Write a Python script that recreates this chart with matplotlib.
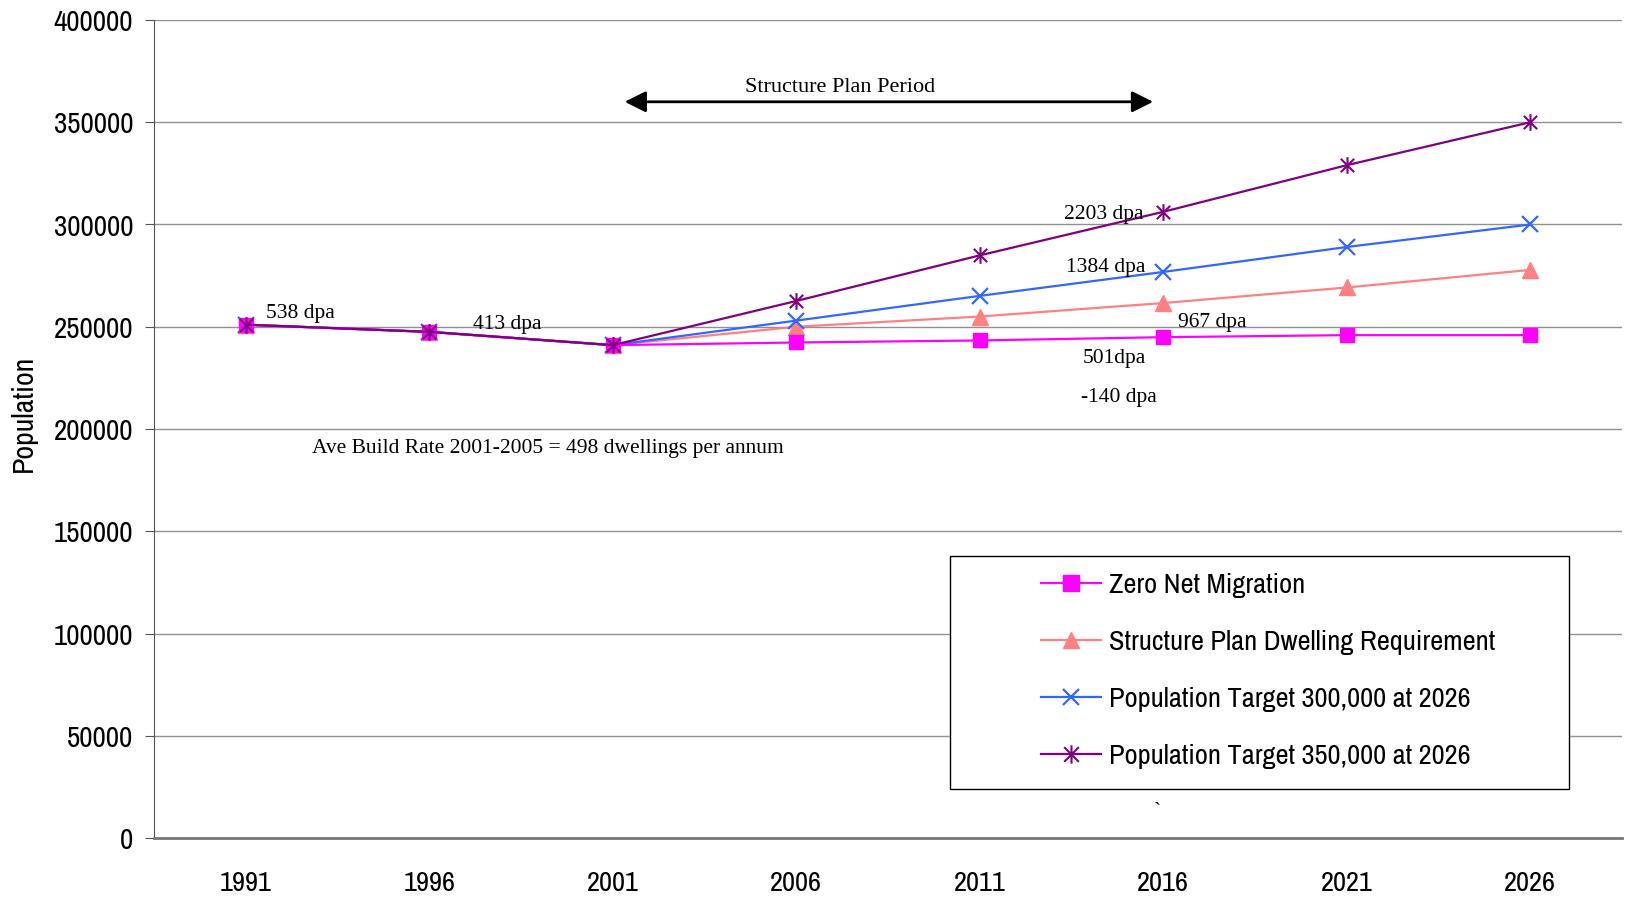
import numpy as np
import matplotlib
matplotlib.use("Agg")
from matplotlib import pyplot as plt
from matplotlib.path import Path
from matplotlib.patches import Rectangle

years = ["1991", "1996", "2001", "2006", "2011", "2016", "2021", "2026"]

zero_net = [251000, 247500, 241000, 242300, 243300, 244900, 245900, 245900]
structure_plan = [251000, 247500, 241000, 250000, 255000, 261600, 269200, 277800]
target_300k = [251000, 247500, 241000, 253000, 265100, 276800, 289000, 300000]
target_350k = [251000, 247500, 241000, 262600, 284900, 306200, 329000, 350000]

series_names = ["Zero Net Migration",
                "Structure Plan Dwelling Requirement",
                "Population Target 300,000 at 2026",
                "Population Target 350,000 at 2026"]

# excel style asterisk: an x with a vertical bar through it
star_path = Path([(-1, -1), (1, 1), (-1, 1), (1, -1), (0, -1.25), (0, 1.25)],
                 [Path.MOVETO, Path.LINETO, Path.MOVETO, Path.LINETO, Path.MOVETO, Path.LINETO])

narrow = ["Liberation Sans Narrow", "Archivo Narrow", "PT Sans Narrow", "Roboto Condensed",
          "Open Sans Condensed", "DejaVu Sans"]
serif = ["Liberation Serif", "Tinos", "DejaVu Serif"]

W, H = 1627, 897
fig = plt.figure(figsize=(W / 100, H / 100), dpi=100)
ax_l, ax_r, ax_t, ax_b = 154, 1622, 20, 838
ax = fig.add_axes([ax_l / W, 1 - ax_b / H, (ax_r - ax_l) / W, (ax_b - ax_t) / H])


def px(xp, yp):
    # pixel position on the canvas -> axes fraction
    return (xp - ax_l) / (ax_r - ax_l), (ax_b - yp) / (ax_b - ax_t)


x = np.arange(len(years))
ax.plot(x, structure_plan, color="#FF8080", lw=1.6, marker="^", ms=11, label=series_names[1], zorder=3)
ax.plot(x, target_300k, color="#3366FF", lw=1.6, marker="x", ms=11, mew=1.6, label=series_names[2], zorder=4)
ax.plot(x, zero_net, color="#FF00FF", lw=1.6, marker="s", ms=10, label=series_names[0], zorder=5)
ax.plot(x, target_350k, color="#800080", lw=1.6, marker=star_path, ms=12, mew=1.5, label=series_names[3], zorder=6)

ax.set_xlim(-0.5, len(years) - 0.5)
ax.set_ylim(0, 400000)
ax.set_yticks(np.arange(0, 400001, 50000))
ax.set_xticks(x)
ax.set_xticklabels(years)
ax.yaxis.grid(True, color="#909090", lw=1)
ax.set_axisbelow(True)

for s in ["top", "right"]:
    ax.spines[s].set_visible(False)
ax.spines["left"].set_color("#555555")
ax.spines["bottom"].set_color("#777777")
ax.spines["bottom"].set_linewidth(2)
ax.tick_params(axis="y", length=6.5, color="#555555", pad=8.5, labelsize=21)
ax.tick_params(axis="x", length=0, pad=23.5, labelsize=20.5)
for lbl in ax.get_xticklabels() + ax.get_yticklabels():
    lbl.set_fontfamily(narrow)

ax.set_ylabel("Population", fontsize=21.5, family=narrow)
ax.yaxis.set_label_coords(*px(23, 413))
ax.yaxis.label.set_va("center")

# dwelling rate notes
notes = [
    (0.11, 256500, "538 dpa"),
    (1.24, 251000, "413 dpa"),
    (4.46, 304700, "2203 dpa"),
    (4.47, 279200, "1384 dpa"),
    (5.08, 252000, "967 dpa"),
    (4.56, 234700, "501dpa"),
    (4.55, 215500, "-140 dpa"),
    (0.36, 190300, "Ave Build Rate 2001-2005 = 498 dwellings per annum"),
    (4.95, 12500, "`"),
]
for nx, ny, txt in notes:
    ax.text(nx, ny, txt, fontsize=15.5, family=serif, ha="left", va="center", zorder=7)

# structure plan period arrow
ax.annotate("", xy=(4.96, 360000), xytext=(2.05, 360000),
            arrowprops=dict(arrowstyle="<|-|>", color="black", lw=2, mutation_scale=32))
ax.text(3.24, 367000, "Structure Plan Period", fontsize=16, family=serif, ha="center", va="center")

# legend box drawn separately so the entries can sit indented inside it
bx0, by0 = px(950, 789)
bx1, by1 = px(1569, 556)
ax.add_patch(Rectangle((bx0, by0), bx1 - bx0, by1 - by0, transform=ax.transAxes,
                       facecolor="white", edgecolor="black", lw=1, zorder=8, clip_on=False))
handles, labels = ax.get_legend_handles_labels()
order = [labels.index(n) for n in series_names]
leg = ax.legend([handles[i] for i in order], [labels[i] for i in order],
                loc="upper left", bbox_to_anchor=px(1041, 573), frameon=False,
                prop={"family": narrow, "size": 20.5}, borderpad=0, borderaxespad=0,
                labelspacing=1.12, handlelength=2.1, handletextpad=0.3, markerscale=1.1)
leg.set_zorder(9)

fig.savefig("out.png", dpi=100)
